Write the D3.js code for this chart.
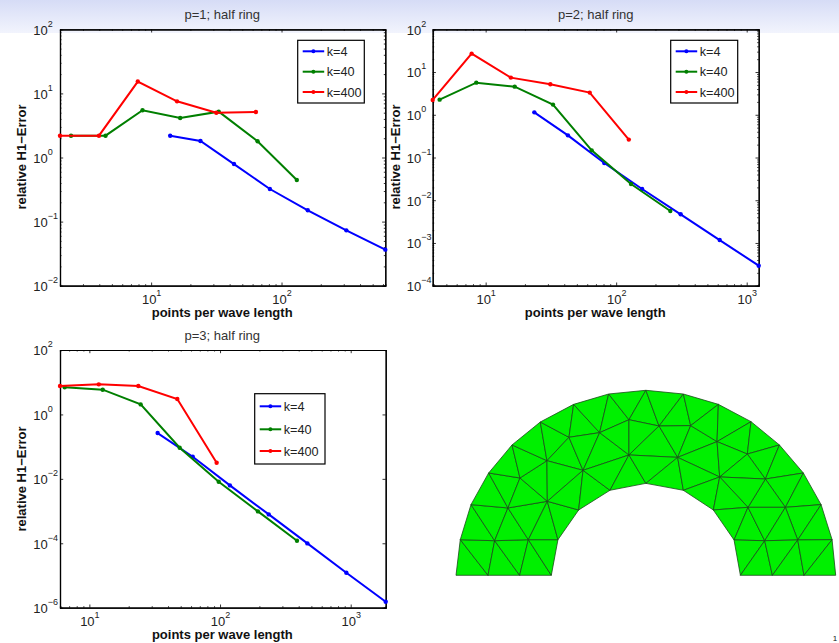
<!DOCTYPE html>
<html>
<head>
<meta charset="utf-8">
<script src="https://cdnjs.cloudflare.com/ajax/libs/d3/7.8.5/d3.min.js"></script>
<style>
    html, body { margin: 0; padding: 0; background: #fff; }
    svg { display: block; }
    text { font-family: "Liberation Sans", Arial, sans-serif; fill: #111; }
    .tick text { font-size: 13px; fill: #222; }
    .title { font-size: 13px; fill: #333; }
    .axis-label { font-size: 13px; font-weight: bold; }
    .legend-text { font-size: 12.7px; fill: #222; }
    .axis path, .axis line { stroke: #000; fill: none; }
    .axis path { stroke-width: 1.2px; }
    .axis line { stroke-width: 0.8px; }
</style>
</head>
<body>
<svg id="slide" width="839" height="643"></svg>
<script>
// series labels and colours
const seriesNames = ["k=4", "k=40", "k=400"];
const seriesColors = ["#0000ff", "#007f00", "#ff0000"];

// p=1, values
const p1k4x = [14, 23.9, 43.2, 81.4, 159, 314, 625];
const p1k4y = [2.19, 1.81, 0.79, 0.3225, 0.15, 0.073, 0.0365];
const p1k40x = [2.43, 4.47, 8.59, 16.7, 33, 65.5, 131];
const p1k40y = [2.19, 2.19, 5.45, 4.13, 5.19, 1.79, 0.445];
const p1k400x = [2.0, 3.98, 7.9, 15.8, 31.6, 63.6];
const p1k400y = [2.19, 2.19, 15.3, 7.52, 5.0, 5.13];

// p=2
const p2k4x = [23.6, 42.7, 81.1, 158, 312, 621, 1236];
const p2k4y = [1.14, 0.33, 0.0743, 0.0183, 0.00468, 0.00117, 0.000294];
const p2k40x = [4.44, 8.48, 16.7, 32.8, 64.9, 130, 260];
const p2k40y = [2.26, 5.64, 4.55, 1.73, 0.147, 0.024, 0.0056];
const p2k400x = [3.93, 7.81, 15.6, 31.3, 62.7, 125];
const p2k400y = [2.22, 26.9, 7.4, 5.16, 3.3, 0.262];

// p=3
const p3k4x = [33.3, 61.8, 119, 236, 466, 926, 1853];
const p3k4y = [0.264, 0.0487, 0.00627, 0.000787, 0.000099, 0.0000122, 0.00000153];
const p3k40x = [6.47, 12.65, 24.7, 49.1, 97.7, 195, 388];
const p3k40y = [6.93, 5.86, 2.05, 0.0927, 0.00815, 0.000977, 0.00012];
const p3k400x = [5.96, 11.8, 23.7, 47.1, 94.2];
const p3k400y = [7.62, 8.59, 7.62, 3.01, 0.0317];

// tick labels (exponents of ten)
const p1xExp = [1, 2];
const p1yExp = [2, 1, 0, -1, -2];
const p2xExp = [1, 2, 3];
const p2yExp = [2, 1, 0, -1, -2, -3, -4];
const p3xExp = [1, 2, 3];
const p3yExp = [2, 0, -2, -4, -6];

// half ring mesh, vertices in mesh units
const meshVertices = {
    O0: [-2, 0], O1: [-1.955, .385], O2: [-1.842, .764], O3: [-1.656, 1.106], O4: [-1.41, 1.409],
    O5: [-1.112, 1.657], O6: [-.761, 1.848], O7: [-.392, 1.96], O8: [0, 2], O9: [.395, 1.96],
    O10: [.764, 1.848], O11: [1.108, 1.661], O12: [1.407, 1.409], O13: [1.659, 1.106],
    O14: [1.846, .764], O15: [1.962, .385], O16: [2, 0],
    I0: [-.996, 0], I1: [-.926, .385], I2: [-.708, .706], I3: [-.378, .919], I4: [0, .994],
    I5: [.395, .919], I6: [.711, .706], I7: [.929, .382], I8: [.996, 0],
    b1: [-1.663, 0], b2: [-1.33, 0], b6: [1.333, 0], b7: [1.666, 0],
    A: [-1.593, .374], B: [-1.238, .385], C: [-1.453, .728], D: [-1.038, .8], E: [-1.326, 1.052],
    F: [-1.042, 1.239], G: [-.662, 1.135], H: [-.81, 1.492], J: [-.487, 1.542], K: [-.178, 1.682],
    L: [-.178, 1.301], M: [.139, 1.614], N: [.472, 1.618], P: [.335, 1.275], Q: [.75, 1.445],
    R: [1.069, 1.311], S: [.778, 1.063], T: [1.259, 1.041], U: [1.47, .735], V: [1.076, .735],
    W: [1.252, .374], X: [1.6, .382]
};
const meshTriangles = [
    "O0 O1 b1", "O1 A b1", "A b1 b2", "A B b2", "B b2 I0", "B I1 I0",
    "O1 O2 A", "O2 C A", "A C B", "C D B", "D I1 B", "D I2 I1",
    "O2 O3 C", "O3 E C", "E D C", "E F D", "O3 O4 E", "O4 F E", "O4 O5 F", "O5 H F",
    "F H G", "F G D", "D G I2", "G I3 I2", "O5 O6 H", "O6 J H", "H J G", "J L G", "G L I3", "L I4 I3",
    "O6 O7 J", "O7 K J", "J K L", "O7 O8 K", "O8 M K", "K M L", "L M P", "L P I4", "I4 P I5",
    "O8 O9 M", "O9 N M", "M N P", "N Q P", "O9 O10 N", "O10 Q N", "P Q S", "P S I5", "I5 S I6",
    "O10 O11 Q", "O11 R Q", "Q R S", "O11 O12 R", "O12 T R", "R T S", "O12 O13 T", "O13 U T",
    "O13 O14 U", "O14 X U", "T U V", "S T V", "S V I6", "I6 V I7", "V W I7", "V U W", "U X W",
    "O14 O15 X", "I7 W I8", "W b6 I8", "W X b6", "X b6 b7", "X O15 b7", "O15 O16 b7"
];

const svg = d3.select("#slide");

// slide header gradient
let grad = svg.append("defs").append("linearGradient")
    .attr("id", "header").attr("x1", 0).attr("y1", 0).attr("x2", 0).attr("y2", 1);
grad.append("stop").attr("offset", "0%").attr("stop-color", "#d6dcf6");
grad.append("stop").attr("offset", "100%").attr("stop-color", "#f2f4fd");
svg.append("rect").attr("width", 839).attr("height", 33).attr("fill", "url(#header)");

/**
 * Minor log ticks inside a domain, 2..9 of each decade
 */
function minorTicks(domain) {
    let out = [];
    for (let e = Math.floor(Math.log10(domain[0])); e < Math.log10(domain[1]); e++) {
        for (let m = 2; m < 10; m++) {
            let v = m * Math.pow(10, e);
            if (v > domain[0] && v < domain[1]) out.push(v);
        }
    }
    return out;
}

/**
 * Write 10^e into a tick label
 */
function powerLabel(sel, exps) {
    sel.selectAll(".tick text").each(function (d) {
        let e = Math.round(Math.log10(d));
        if (exps.indexOf(e) < 0) return;
        let t = d3.select(this).text(null);
        t.append("tspan").text("10");
        t.append("tspan")
            .attr("dy", "-8")
            .style("font-size", "9px")
            .text(String(e).replace("-", "\u2212"));
    });
}

/**
 * Draws one log-log panel
 */
function drawPanel(cfg) {
    let x = d3.scaleLog().domain(cfg.xDomain).range([cfg.left, cfg.right]);
    let y = d3.scaleLog().domain(cfg.yDomain).range([cfg.bottom, cfg.top]);
    let g = svg.append("g");

    let xMajor = cfg.xExp.map(function (e) { return Math.pow(10, e); });
    let yMajor = cfg.yExp.map(function (e) { return Math.pow(10, e); });
    let xMinor = minorTicks(cfg.xDomain);
    let yMinor = cfg.yMinor ? minorTicks(cfg.yDomain) : [];

    // minor ticks, inward, on all four sides
    g.append("g").attr("class", "axis").attr("transform", "translate(0," + cfg.bottom + ")")
        .call(d3.axisBottom(x).tickValues(xMinor).tickSize(-1.5).tickFormat(""));
    g.append("g").attr("class", "axis").attr("transform", "translate(0," + cfg.top + ")")
        .call(d3.axisTop(x).tickValues(xMinor).tickSize(-1.5).tickFormat(""));
    g.append("g").attr("class", "axis").attr("transform", "translate(" + cfg.left + ",0)")
        .call(d3.axisLeft(y).tickValues(yMinor).tickSize(-1.5).tickFormat(""));
    g.append("g").attr("class", "axis").attr("transform", "translate(" + cfg.right + ",0)")
        .call(d3.axisRight(y).tickValues(yMinor).tickSize(-1.5).tickFormat(""));

    // major ticks with labels
    g.append("g").attr("class", "axis").attr("transform", "translate(0," + cfg.bottom + ")")
        .call(d3.axisBottom(x).tickValues(xMajor).tickSizeInner(-3.2).tickSizeOuter(0).tickPadding(9).tickFormat(""))
        .call(powerLabel, cfg.xExp);
    g.append("g").attr("class", "axis").attr("transform", "translate(0," + cfg.top + ")")
        .call(d3.axisTop(x).tickValues(xMajor).tickSizeInner(-3.2).tickSizeOuter(0).tickFormat(""));
    // the "10" of the y labels lines up on its left edge, the exponent hangs off it
    g.append("g").attr("class", "axis").attr("transform", "translate(" + cfg.left + ",0)")
        .call(d3.axisLeft(y).tickValues(yMajor).tickSizeInner(-3.2).tickSizeOuter(0).tickPadding(cfg.yLabelPad).tickFormat(""))
        .call(powerLabel, cfg.yExp)
        .selectAll(".tick text").attr("dy", "0.38em").attr("text-anchor", "start");
    g.append("g").attr("class", "axis").attr("transform", "translate(" + cfg.right + ",0)")
        .call(d3.axisRight(y).tickValues(yMajor).tickSizeInner(-3.2).tickSizeOuter(0).tickFormat(""));

    // curves
    let line = d3.line()
        .x(function (d) { return x(d[0]); })
        .y(function (d) { return y(d[1]); });
    cfg.series.forEach(function (s, i) {
        let pts = d3.zip(s[0], s[1]);
        g.append("path").datum(pts)
            .attr("d", line)
            .attr("fill", "none")
            .attr("stroke", seriesColors[i])
            .attr("stroke-width", 2);
        g.selectAll(".m" + i).data(pts).enter().append("circle")
            .attr("class", "m" + i)
            .attr("cx", function (d) { return x(d[0]); })
            .attr("cy", function (d) { return y(d[1]); })
            .attr("r", 2.2)
            .attr("fill", seriesColors[i]);
    });

    // labels
    let midX = (cfg.left + cfg.right) / 2;
    g.append("text").attr("class", "title").attr("x", cfg.titleX).attr("y", cfg.titleY)
        .attr("text-anchor", "middle").text(cfg.title);
    g.append("text").attr("class", "axis-label").attr("x", midX - 0.5).attr("y", cfg.xLabelY)
        .attr("text-anchor", "middle").text("points per wave length");
    g.append("text").attr("class", "axis-label").attr("text-anchor", "middle")
        .attr("transform", "translate(" + cfg.yLabelX + "," + cfg.yLabelY + ") rotate(-90)")
        .text("relative H1\u2212Error");

    // legend
    let lg = cfg.legend;
    g.append("rect").attr("x", lg.x).attr("y", lg.y).attr("width", lg.w).attr("height", lg.h)
        .attr("fill", "#fff").attr("stroke", "#000").attr("stroke-width", 1.2);
    seriesNames.forEach(function (name, i) {
        let ly = lg.rows[i];
        g.append("line").attr("x1", lg.x + 5).attr("x2", lg.x + 26.5).attr("y1", ly).attr("y2", ly)
            .attr("stroke", seriesColors[i]).attr("stroke-width", 2);
        g.append("circle").attr("cx", lg.x + 15.7).attr("cy", ly).attr("r", 2).attr("fill", seriesColors[i]);
        g.append("text").attr("class", "legend-text").attr("x", lg.x + 29).attr("y", ly + 4.5).text(name);
    });
}

drawPanel({
    left: 60, right: 385.3, top: 29.3, bottom: 285.7,
    xDomain: [2, 625], yDomain: [0.01, 100],
    xExp: p1xExp, yExp: p1yExp, yMinor: true, yLabelPad: 26.7,
    series: [[p1k4x, p1k4y], [p1k40x, p1k40y], [p1k400x, p1k400y]],
    title: "p=1; half ring", titleX: 222.3, titleY: 18.5,
    xLabelY: 316.5, yLabelX: 26, yLabelY: 157,
    legend: { x: 297.7, y: 40.3, w: 66.6, h: 62.7, rows: [51.3, 71.7, 92] }
});

drawPanel({
    left: 432.7, right: 758.7, top: 29.3, bottom: 285.7,
    xDomain: [3.93, 1236], yDomain: [0.0001, 100],
    xExp: p2xExp, yExp: p2yExp, yMinor: true, yLabelPad: 26,
    series: [[p2k4x, p2k4y], [p2k40x, p2k40y], [p2k400x, p2k400y]],
    title: "p=2; half ring", titleX: 595.8, titleY: 18.5,
    xLabelY: 316.5, yLabelX: 399.5, yLabelY: 157,
    legend: { x: 670.7, y: 40.3, w: 67, h: 62.7, rows: [51.3, 71.7, 92] }
});

drawPanel({
    left: 60, right: 385.7, top: 350, bottom: 607.7,
    xDomain: [5.96, 1853], yDomain: [0.000001, 100],
    xExp: p3xExp, yExp: p3yExp, yMinor: false, yLabelPad: 26.7,
    series: [[p3k4x, p3k4y], [p3k40x, p3k40y], [p3k400x, p3k400y]],
    title: "p=3; half ring", titleX: 222.3, titleY: 340,
    xLabelY: 638.5, yLabelX: 26, yLabelY: 479,
    legend: { x: 254.7, y: 393.7, w: 70.3, h: 70.3, rows: [406.3, 429.3, 451] }
});

// half ring mesh
let meshX = d3.scaleLinear().domain([-2, 2]).range([456, 835.7]);
let meshY = d3.scaleLinear().domain([0, 2]).range([575.3, 390.3]);
let meshLine = d3.line()
    .x(function (d) { return meshX(d[0]); })
    .y(function (d) { return meshY(d[1]); })
    .curve(d3.curveLinearClosed);
svg.append("g").selectAll("path")
    .data(meshTriangles)
    .enter()
    .append("path")
    .attr("d", function (d) {
        return meshLine(d.split(" ").map(function (k) { return meshVertices[k]; }));
    })
    .attr("fill", "#00f000")
    .attr("stroke", "#1c4a1c")
    .attr("stroke-width", 0.8)
    .attr("stroke-linejoin", "round");

// page number
svg.append("text").attr("x", 835).attr("y", 641).attr("text-anchor", "middle")
    .style("font-size", "8px").text("1");
</script>
</body>
</html>
